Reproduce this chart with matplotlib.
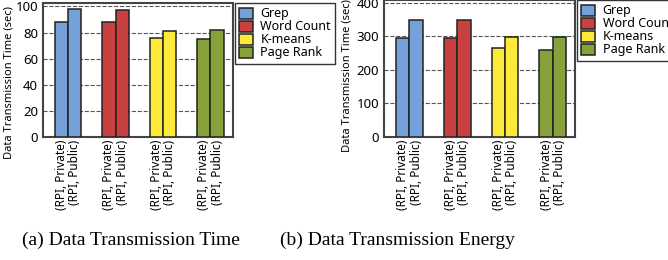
import numpy as np
import matplotlib
matplotlib.use("Agg")
import matplotlib.pyplot as plt

plt.rcParams['font.family'] = ['Noto Sans', 'DejaVu Sans']

# data
categories = ['Grep', 'Word Count', 'K-means', 'Page Rank']
bar_labels = ['(RPI, Private)', '(RPI, Public)']
time_private = [88, 88, 76, 75]
time_public = [98, 97, 81, 82]
energy_private = [294, 295, 264, 259]
energy_public = [348, 348, 297, 297]
colors = ['#74a1d9', '#c8403f', '#fde93a', '#87a23a']

fig = plt.figure(figsize=(6.68, 2.6), dpi=100)


def draw(ax, priv, pub, ymax, yticks):
    width = 0.28
    x = np.arange(len(categories))
    tick_pos, tick_lab = [], []
    for i, cat in enumerate(categories):
        ax.bar(x[i] - width / 2, priv[i], width, color=colors[i],
               edgecolor='#222222', linewidth=1.1, label=cat, zorder=3)
        ax.bar(x[i] + width / 2, pub[i], width, color=colors[i],
               edgecolor='#222222', linewidth=1.1, zorder=3)
        tick_pos += [x[i] - width / 2, x[i] + width / 2]
        tick_lab += bar_labels
    ax.set_xticks(tick_pos)
    ax.set_xticklabels(tick_lab, rotation=90, fontsize=8.5)
    ax.set_xlim(-0.53, 3.47)
    ax.set_ylim(0, ymax)
    ax.set_yticks(yticks)
    ax.tick_params(axis='x', length=0, pad=2)
    ax.tick_params(axis='y', length=0, pad=3.5, labelsize=9.5)
    ax.yaxis.grid(True, linestyle='--', color='#555555', linewidth=0.8)
    ax.set_axisbelow(True)
    for s in ax.spines.values():
        s.set_color('#444444')
        s.set_linewidth(1.5)
    ax.set_ylabel('Data Transmission Time (sec)', fontsize=8)
    leg = ax.legend(loc='upper left', bbox_to_anchor=(1.01, 1.0), fontsize=9,
                    frameon=True, fancybox=False, edgecolor='black',
                    handlelength=1.1, handleheight=1.0, labelspacing=0.0,
                    handletextpad=0.6, borderpad=0.35, borderaxespad=0)
    leg.get_frame().set_linewidth(1.0)


ax1 = fig.add_axes([0.0644, 0.473, 0.284, 0.515])
draw(ax1, time_private, time_public, 102.5, [0, 20, 40, 60, 80, 100])
ax1.yaxis.set_label_coords(-0.15, 0.41)

ax2 = fig.add_axes([0.575, 0.473, 0.286, 0.527])
draw(ax2, energy_private, energy_public, 408, [0, 100, 200, 300, 400])
ax2.yaxis.set_label_coords(-0.168, 0.45)

fig.text(131 / 668, 1 - 240 / 260, '(a) Data Transmission Time',
         family='Liberation Serif', fontsize=14, ha='center', va='center')
fig.text(397 / 668, 1 - 240 / 260, '(b) Data Transmission Energy',
         family='Liberation Serif', fontsize=14, ha='center', va='center')

fig.savefig('out.png', dpi=100)
